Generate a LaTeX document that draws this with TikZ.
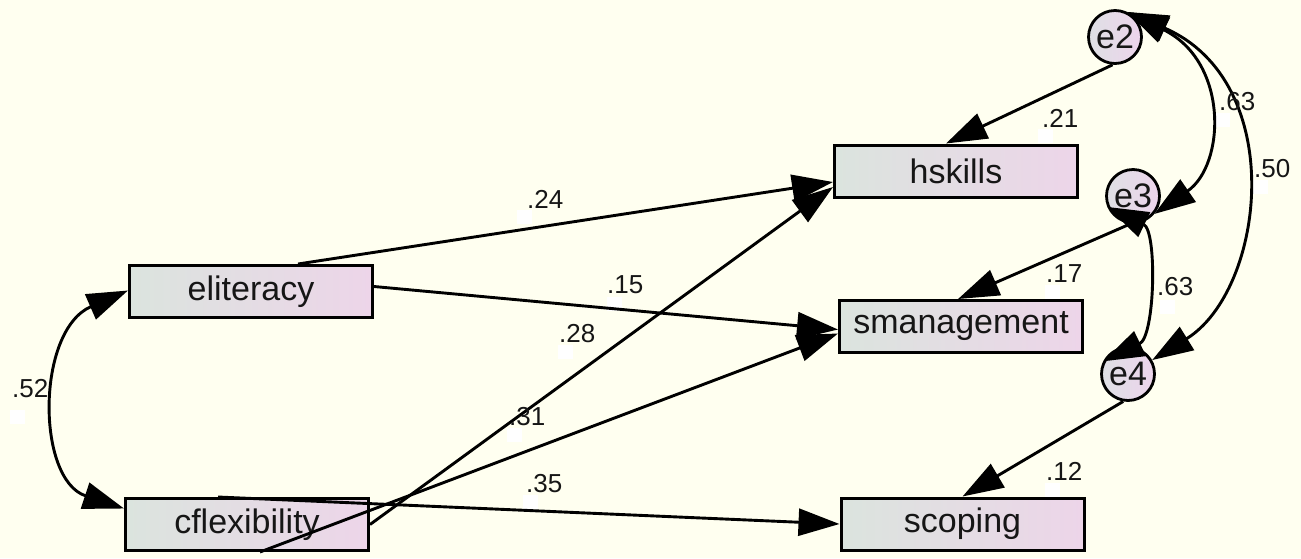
\documentclass[tikz,border=0pt]{standalone}
\usepackage{fontspec}
\setmainfont{Liberation Sans}
\usetikzlibrary{arrows.meta,calc}
\definecolor{bg}{RGB}{255,255,240}
\definecolor{boxL}{RGB}{219,228,222}
\definecolor{boxR}{RGB}{237,213,233}
\definecolor{circL}{RGB}{222,224,228}
\definecolor{circR}{RGB}{237,212,236}
\definecolor{ink}{RGB}{22,22,22}
\begin{document}
\begin{tikzpicture}[x=1pt,y=-1pt,
  var/.style={draw=black, line width=3pt, minimum width=243pt, minimum height=52pt, inner sep=0pt,
    left color=boxL, right color=boxR, font=\fontsize{34}{40}\selectfont, text=ink},
  err/.style={circle, draw=black, line width=2.8pt, minimum size=53pt, inner sep=0pt,
    left color=circL, right color=circR, font=\fontsize{34}{40}\selectfont, text=ink},
  reg/.style={line width=2.9pt, -{Triangle[length=41pt,width=27pt]}},
  cov/.style={line width=2.9pt, {Triangle[length=41pt,width=27pt]}-{Triangle[length=41pt,width=27pt]}},
  lab/.style={anchor=base west, inner sep=0pt, font=\fontsize{26}{30}\selectfont, text=ink},
  sq/.style={fill=white, inner sep=0pt, minimum width=15pt, minimum height=14pt, anchor=north west}
]
\useasboundingbox (0,0) rectangle (1301,558);
\fill[bg] (0,0) rectangle (1301,558);

% white marker squares
\node[sq] (s24) at (517,210) {};
\node[sq] (s15) at (607,297) {};
\node[sq] (s28) at (558,345) {};
\node[sq] (s31) at (507,428) {};
\node[sq] (s35) at (523,495) {};
\node[sq] (s21) at (1038,129) {};
\node[sq] (s17) at (1045,285) {};
\node[sq] (s12) at (1045,483) {};
\node[sq] (s63a) at (1215,113) {};
\node[sq] (s50) at (1253,180) {};
\node[sq] (s63b) at (1160,300) {};
\node[sq] (s52) at (10,410) {};

% variables
\node[var] (eli) at (251,291.5) {eliteracy};
\node[var] (cfl) at (247,524.5) {cflexibility};
\node[var] (hsk) at (956,171) {hskills};
\node[var] (sma) at (961,326.5) {smanagement};
\node[var] (sco) at (962.5,524) {scoping};
\node[err] (e2) at (1115,37) {e2};
\node[err] (e3) at (1133,196) {e3};
\node[err] (e4) at (1128,374) {e4};

% regression paths
\draw[reg] ($(eli.north)+(47,0)$) -- ($(hsk.west)+(0,11)$);
\draw[reg] ($(eli.east)+(0,-5)$) -- ($(sma.west)+(0,3)$);
\draw[reg] (cfl.east) -- ($(hsk.west)+(0,16)$);
\draw[reg] ($(cfl.south)+(13,0)$) -- ($(sma.west)+(0,7)$);
\draw[reg] ($(cfl.north)+(-29,0)$) -- (sco.west);
\draw[reg] (e2.-95) -- ($(hsk.north)+(-10,0)$);
\draw[reg] (e3.-95) -- ($(sma.north)+(-3,0)$);
\draw[reg] (e4.-100) -- (sco.north);

% covariances
\draw[cov] ($(eli.west)+(0,-1)$) .. controls +(-92,40) and +(-88,-29) .. ($(cfl.west)+(0,-16)$);
\draw[cov] (e2.64) .. controls +(102,50) and +(71,-49) .. (e3.-40);
\draw[cov] (e2.64) .. controls +(162,70) and +(113,-70) .. (e4.30);
\draw[cov] (e3.203) .. controls +(50,24) and +(52,-25) .. (e4.153);

% labels
\node[lab] (l24) at (527,208) {.24};
\node[lab] (l15) at (607,293) {.15};
\node[lab] (l28) at (559,342) {.28};
\node[lab] (l31) at (509,425) {.31};
\node[lab] (l35) at (526,492) {.35};
\node[lab] (l21) at (1042,127) {.21};
\node[lab] (l17) at (1046,282) {.17};
\node[lab] (l12) at (1046,480) {.12};
\node[lab] (l63a) at (1219,110) {.63};
\node[lab] (l50) at (1254,177) {.50};
\node[lab] (l63b) at (1157,295) {.63};
\node[lab] (l52) at (12,397) {.52};
\end{tikzpicture}
\end{document}
